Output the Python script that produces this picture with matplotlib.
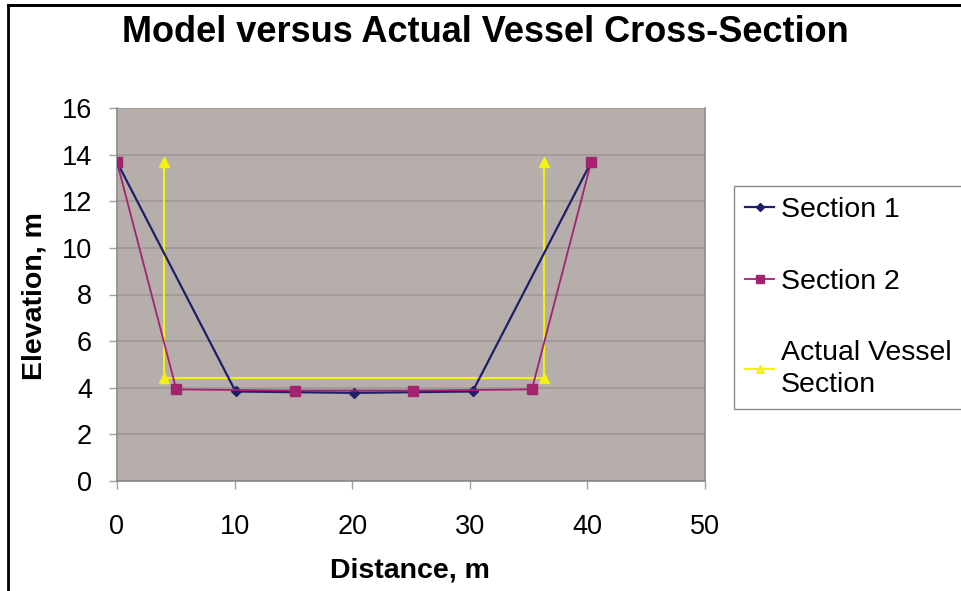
import matplotlib
matplotlib.use("Agg")
import matplotlib.pyplot as plt

plt.rcParams['font.family'] = ['Liberation Sans', 'DejaVu Sans']

# Data
sec1_x = [0, 10.08, 20.16, 30.24, 40.32]
sec1_y = [13.68, 3.84, 3.78, 3.84, 13.68]
sec2_x = [0, 5.04, 15.12, 25.2, 35.28, 40.32]
sec2_y = [13.68, 3.93, 3.88, 3.88, 3.93, 13.68]
act_x = [4.03, 4.03, 36.3, 36.3]
act_y = [13.68, 4.4, 4.4, 13.68]
labels = ["Section 1", "Section 2", "Actual Vessel\nSection"]
x_ticks = [0, 10, 20, 30, 40, 50]
y_ticks = [0, 2, 4, 6, 8, 10, 12, 14, 16]

W, H = 962, 591
fig = plt.figure(figsize=(W/100, H/100), dpi=100)
fig.patch.set_facecolor('white')

ax = fig.add_axes([117/W, 1-481/H, (705-117)/W, (481-108)/H])
ax.set_facecolor('#B5AEAB')

ax.plot(sec1_x, sec1_y, color='#1E1E6B', lw=1.6, marker='D', ms=5, label=labels[0], zorder=3)
ax.plot(sec2_x, sec2_y, color='#A3236F', lw=1.3, marker='s', ms=6.5, label=labels[1], zorder=3)
ax.plot(act_x, act_y, color='#F2F20A', lw=1.5, marker='^', ms=7, label=labels[2], zorder=2)

ax.set_xlim(0, 50)
ax.set_ylim(0, 16)
ax.set_xticks(x_ticks)
ax.set_yticks(y_ticks)
ax.yaxis.grid(True, color='#9E9896', lw=1.2)
ax.set_axisbelow(True)
for s in ax.spines.values():
    s.set_color('#8A8A8A')
    s.set_linewidth(1.2)
ax.spines['top'].set_visible(False)
ax.tick_params(axis='both', labelsize=19.5, colors='#A0A0A0', labelcolor='black', length=6, width=1)
ax.tick_params(axis='y', pad=12)
ax.tick_params(axis='x', pad=18)

fig.text(485/W, 1-33/H, "Model versus Actual Vessel Cross-Section", ha='center', va='center',
         fontsize=26, fontweight='bold')
fig.text(410/W, 1-571/H, "Distance, m", ha='center', va='center', fontsize=20.5, fontweight='bold')
fig.text(35/W, 1-296/H, "Elevation, m", ha='center', va='center', rotation=90, fontsize=20.5, fontweight='bold')

leg = fig.legend(loc='upper left', bbox_to_anchor=(734/W, 1-186/H), fontsize=20.5,
                 frameon=True, fancybox=False, edgecolor='#8A8A8A', facecolor='white',
                 framealpha=1, handlelength=1.0, handletextpad=0.25, labelspacing=1.6,
                 borderpad=0.4, borderaxespad=0, markerscale=0.8)
leg.get_frame().set_linewidth(1.0)
for t in leg.get_texts():
    t.set_linespacing(1.25)

# outer frame: top and left edges, drawn in figure pixel units
fig.patches.append(plt.Rectangle((8, -20), W + 40, H - 5 + 20, transform=None,
                                 fill=False, edgecolor='black', lw=2.0, zorder=10))
fig.lines.append(plt.Line2D([8, W], [H - 5, H - 5], transform=None, color='black', lw=2.0, zorder=10))

fig.savefig("out.png", dpi=100, facecolor='white')
